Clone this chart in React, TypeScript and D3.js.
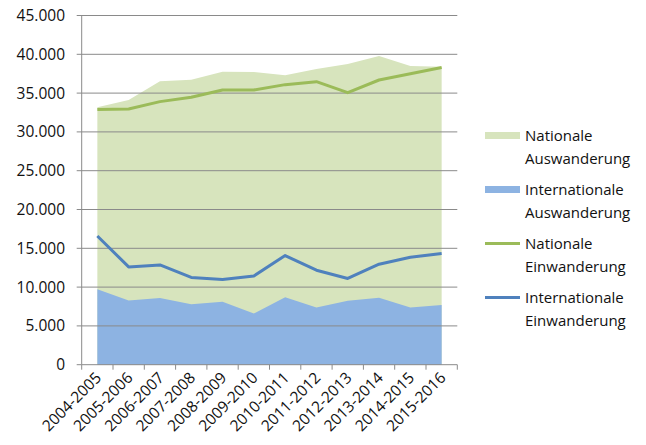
import * as d3 from "d3";

const years = [
  "2004-2005", "2005-2006", "2006-2007", "2007-2008", "2008-2009", "2009-2010",
  "2010-2011", "2011-2012", "2012-2013", "2013-2014", "2014-2015", "2015-2016",
];
const natAus = [33170, 34120, 36520, 36730, 37760, 37720, 37290, 38100, 38750, 39780, 38490, 38400];
const intAus = [9730, 8280, 8580, 7800, 8100, 6600, 8700, 7380, 8230, 8620, 7380, 7680];
const natEin = [32900, 32960, 33900, 34460, 35400, 35400, 36090, 36470, 35060, 36690, 37500, 38310];
const intEin = [16590, 12600, 12860, 11240, 10980, 11440, 14060, 12180, 11110, 12950, 13850, 14320];
const yTicks = [0, 5000, 10000, 15000, 20000, 25000, 30000, 35000, 40000, 45000];

const W = 646;
const H = 445;
const left = 81.7;
const right = 457.3;
const top = 15.5;
const bottom = 364.7;
const font = "'Open Sans', sans-serif";

const fmt = (v: number) => (v === 0 ? "0" : d3.format(",")(v).replace(/,/g, "."));

export default function App() {
  const x = d3.scaleBand<string>().domain(years).range([left, right]);
  const cx = (i: number) => (x(years[i]) ?? 0) + x.bandwidth() / 2;
  const y = d3.scaleLinear().domain([0, 45000]).range([bottom, top]);

  const area = d3
    .area<number>()
    .x((_, i) => cx(i))
    .y0(y(0))
    .y1((d) => y(d));
  const line = d3
    .line<number>()
    .x((_, i) => cx(i))
    .y((d) => y(d));

  const legend = [
    { type: "area", color: "#D7E4BD", lines: ["Nationale", "Auswanderung"] },
    { type: "area", color: "#8DB3E2", lines: ["Internationale", "Auswanderung"] },
    { type: "line", color: "#9BBB59", lines: ["Nationale", "Einwanderung"] },
    { type: "line", color: "#4F81BD", lines: ["Internationale", "Einwanderung"] },
  ];

  return (
    <div style={{ position: "fixed", left: 0, top: 0, width: W, height: H, background: "#fff" }}>
      <svg width={W} height={H} style={{ display: "block" }} fontFamily={font}>
        <rect width={W} height={H} fill="#fff" />
        <path d={area(natAus) ?? ""} fill="#D7E4BD" />
        <path d={area(intAus) ?? ""} fill="#8DB3E2" />
        {yTicks.map((t) => (
          <g key={t}>
            <line x1={left - 5} x2={t > 0 ? right : left} y1={y(t)} y2={y(t)} stroke="#8a8a8a" strokeWidth={1} />
            <text x={65} y={y(t)} dy="0.36em" textAnchor="end" fontSize={15.5} fill="#111">
              {fmt(t)}
            </text>
          </g>
        ))}
        <path d={line(natEin) ?? ""} fill="none" stroke="#9BBB59" strokeWidth={3} strokeLinejoin="round" />
        <path d={line(intEin) ?? ""} fill="none" stroke="#4F81BD" strokeWidth={3} strokeLinejoin="round" />
        <line x1={left} x2={left} y1={top} y2={bottom} stroke="#8a8a8a" strokeWidth={1} />
        <line x1={left} x2={right} y1={bottom} y2={bottom} stroke="#8a8a8a" strokeWidth={1} />
        {years.map((yr) => (
          <line key={"t" + yr} x1={x(yr)} x2={x(yr)} y1={bottom} y2={bottom + 5} stroke="#8a8a8a" />
        ))}
        <line x1={right} x2={right} y1={bottom} y2={bottom + 5} stroke="#8a8a8a" />
        {years.map((yr, i) => (
          <text
            key={yr}
            transform={`translate(${cx(i) + 5},${bottom + 14}) rotate(-45)`}
            textAnchor="end"
            fontSize={15.5}
            fill="#111"
          >
            {yr}
          </text>
        ))}
        {legend.map((l, i) => {
          const ly = 135.5 + i * 54;
          return (
            <g key={i}>
              {l.type === "area" ? (
                <rect x={485} y={ly - 3.5} width={35} height={7} fill={l.color} />
              ) : (
                <line x1={485} x2={520} y1={ly} y2={ly} stroke={l.color} strokeWidth={3} />
              )}
              {l.lines.map((s, j) => (
                <text key={j} x={525} y={ly + j * 23} dy="0.36em" fontSize={15} fill="#111">
                  {s}
                </text>
              ))}
            </g>
          );
        })}
      </svg>
    </div>
  );
}
